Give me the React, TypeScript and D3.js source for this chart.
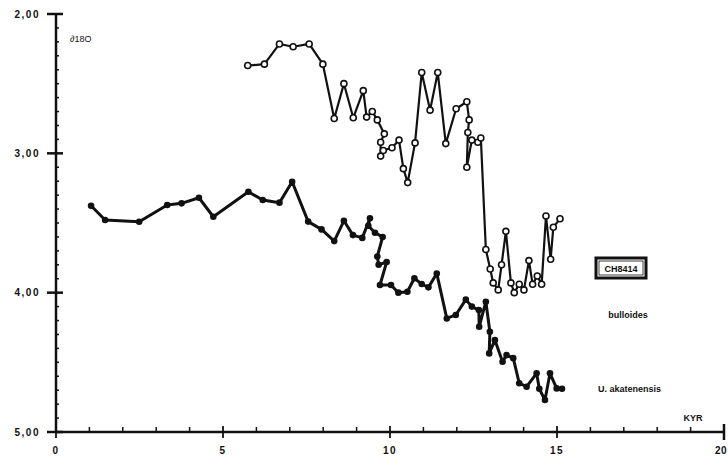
import React from "react";
import * as d3 from "d3";

const bulloidesX = [5.74, 6.24, 6.69, 7.10, 7.58, 7.99, 8.33, 8.62, 8.90, 9.20, 9.30, 9.47, 9.62, 9.83, 9.72, 9.72, 9.80, 10.06, 10.27, 10.40, 10.53, 10.75, 10.95, 11.20, 11.43, 11.67, 11.98, 12.30, 12.37, 12.33, 12.30, 12.45, 12.63, 12.72, 12.87, 13.00, 13.09, 13.24, 13.34, 13.47, 13.62, 13.72, 13.87, 14.01, 14.16, 14.27, 14.41, 14.54, 14.67, 14.81, 14.89, 15.09];
const bulloidesY = [2.37, 2.36, 2.215, 2.235, 2.215, 2.36, 2.75, 2.50, 2.745, 2.55, 2.74, 2.70, 2.76, 2.86, 2.92, 3.02, 2.98, 2.96, 2.905, 3.11, 3.21, 2.925, 2.42, 2.69, 2.42, 2.93, 2.68, 2.63, 2.76, 2.85, 3.10, 2.905, 2.92, 2.89, 3.69, 3.83, 3.93, 3.98, 3.80, 3.56, 3.93, 4.00, 3.94, 3.98, 3.77, 3.94, 3.88, 3.94, 3.45, 3.76, 3.53, 3.47];

const akatX = [1.05, 1.47, 2.49, 3.33, 3.76, 4.28, 4.71, 5.76, 6.19, 6.69, 7.07, 7.55, 7.95, 8.33, 8.62, 8.89, 9.17, 9.40, 9.35, 9.55, 9.78, 9.62, 9.66, 9.90, 9.70, 10.03, 10.25, 10.52, 10.73, 10.95, 11.15, 11.40, 11.70, 11.97, 12.27, 12.45, 12.66, 12.67, 12.87, 12.99, 12.97, 13.14, 13.37, 13.49, 13.69, 13.87, 14.09, 14.39, 14.47, 14.64, 14.79, 14.99, 15.15];
const akatY = [3.376, 3.479, 3.491, 3.371, 3.359, 3.319, 3.455, 3.276, 3.335, 3.354, 3.204, 3.49, 3.546, 3.63, 3.484, 3.587, 3.607, 3.466, 3.52, 3.57, 3.60, 3.74, 3.80, 3.78, 3.945, 3.945, 4.0, 3.993, 3.897, 3.938, 3.962, 3.862, 4.185, 4.16, 4.05, 4.10, 4.125, 4.245, 4.065, 4.28, 4.436, 4.34, 4.496, 4.448, 4.47, 4.65, 4.675, 4.579, 4.69, 4.77, 4.579, 4.687, 4.69];

const yMajor = [2, 3, 4, 5];
const yMajorLabels = ["2,00", "3,00", "4,00", "5,00"];
const xMajor = [0, 5, 10, 15, 20];
const xMajorLabels = ["0", "5", "10", "15", "20"];

export default function App() {
  const x = d3.scaleLinear().domain([0, 20]).range([56, 724]);
  const y = d3.scaleLinear().domain([2, 5]).range([14, 432]);
  const ink = "#111";
  const font = "'Liberation Sans', Arial, sans-serif";

  const top = bulloidesX.map((v, i) => [v, bulloidesY[i]] as [number, number]);
  const low = akatX.map((v, i) => [v, akatY[i]] as [number, number]);
  const line = d3.line<[number, number]>().x((d) => x(d[0])).y((d) => y(d[1]));

  const yMinor = d3.range(2, 5.0001, 0.1).map((v) => Math.round(v * 10) / 10).filter((v) => !yMajor.includes(v));
  const xMinor = d3.range(1, 20).filter((v) => v % 5 !== 0);

  return (
    <svg width={728} height={462} style={{ position: "absolute", left: 0, top: 0, background: "#fff" }}>
      {/* y axis */}
      <line x1={x(0)} x2={x(0)} y1={y(2)} y2={y(5)} stroke={ink} strokeWidth={2.5} />
      {yMajor.map((v) => (
        <line key={"ym" + v} x1={x(0) - 9} x2={x(0) + 7} y1={y(v)} y2={y(v)} stroke={ink} strokeWidth={2.5} />
      ))}
      {yMinor.map((v) => (
        <line key={"yn" + v} x1={x(0)} x2={x(0) + 3} y1={y(v)} y2={y(v)} stroke={ink} strokeWidth={1.5} />
      ))}
      {yMajor.map((v, i) => (
        <text key={"yl" + v} x={40} y={y(v) + 3.5} textAnchor="end" fontFamily={font} fontSize={10} fontWeight="bold" letterSpacing={1.5} fill={ink}>
          {yMajorLabels[i]}
        </text>
      ))}
      <text x={70} y={42} fontFamily={font} fontSize={9} fill={ink}>∂18O</text>

      {/* x axis */}
      <line x1={x(0)} x2={x(20)} y1={y(5)} y2={y(5)} stroke={ink} strokeWidth={2.5} />
      {xMinor.map((v) => (
        <line key={"xn" + v} x1={x(v)} x2={x(v)} y1={y(5)} y2={y(5) - 5} stroke={ink} strokeWidth={1.5} />
      ))}
      {xMajor.map((v) => (
        <line key={"xm" + v} x1={x(v)} x2={x(v)} y1={y(5) - (v === 20 ? 8 : 6)} y2={y(5) + (v === 20 ? 8 : 6)} stroke={ink} strokeWidth={v === 20 ? 2.5 : 1.8} />
      ))}
      {xMajor.map((v, i) => (
        <text key={"xl" + v} x={v === 20 ? 727 : x(v)} y={454} textAnchor={v === 20 ? "end" : "middle"} fontFamily={font} fontSize={10} fontWeight="bold" letterSpacing={v === 20 ? 0.5 : 1.5} fill={ink}>
          {xMajorLabels[i]}
        </text>
      ))}
      <text x={693} y={421} textAnchor="middle" fontFamily={font} fontSize={9} fontWeight="bold" fill={ink}>KYR</text>

      {/* bulloides series */}
      <path d={line(top) || ""} fill="none" stroke={ink} strokeWidth={2.2} strokeLinejoin="round" />
      {top.map((d, i) => (
        <circle key={"t" + i} cx={x(d[0])} cy={y(d[1])} r={3} fill="#fff" stroke={ink} strokeWidth={1.6} />
      ))}

      {/* akatenensis series */}
      <path d={line(low) || ""} fill="none" stroke={ink} strokeWidth={3} strokeLinejoin="round" />
      {low.map((d, i) => (
        <circle key={"l" + i} cx={x(d[0])} cy={y(d[1])} r={3.3} fill={ink} />
      ))}

      {/* legend */}
      <rect x={596} y={258} width={50} height={20} fill="#fff" stroke={ink} strokeWidth={3} />
      <rect x={599} y={261} width={44} height={14} fill="none" stroke={ink} strokeWidth={0.8} />
      <text x={621} y={271.5} textAnchor="middle" fontFamily={font} fontSize={9} fontWeight="bold" fill={ink}>CH8414</text>
      <text x={628} y={318} textAnchor="middle" fontFamily={font} fontSize={9} fontWeight="bold" fill={ink}>bulloides</text>
      <text x={598} y={392} fontFamily={font} fontSize={9} fontWeight="bold" fill={ink}>U. akatenensis</text>
    </svg>
  );
}
